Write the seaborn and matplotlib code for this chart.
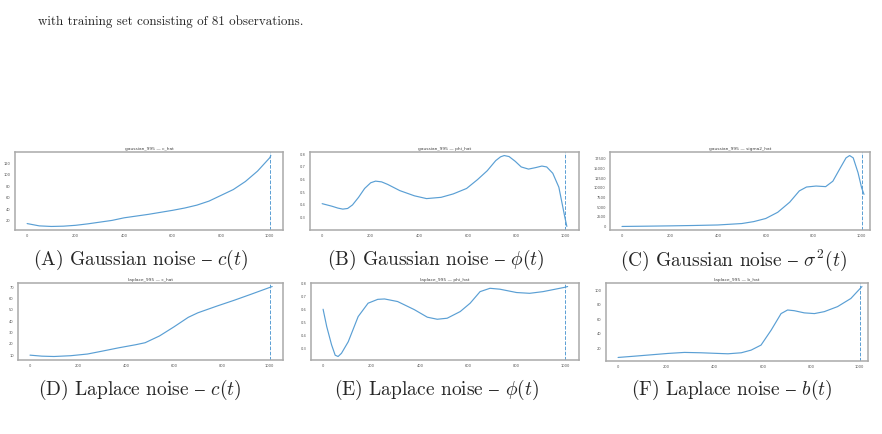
import numpy as np
import pandas as pd
import matplotlib
matplotlib.use("Agg")
import matplotlib.pyplot as plt
import seaborn as sns

# 数据：估计值
t_gc = [0, 50, 100, 150, 200, 250, 300, 350, 400, 450, 500, 550, 600, 650, 700, 750, 800, 850, 900, 950, 1000, 1005]
gauss_c = [15, 11, 10, 10.5, 12, 14.5, 17.5, 20.5, 25, 28, 31, 34.5, 38, 42, 47, 54, 64, 74, 88, 106, 129, 133]

t_gphi = [0, 40, 65, 85, 105, 125, 150, 175, 200, 220, 245, 270, 320, 380, 430, 490, 540, 595, 640, 680, 715, 735, 750, 770, 795, 820, 850, 880, 905, 925, 950, 975, 1000, 1008]
gauss_phi = [0.41, 0.39, 0.375, 0.367, 0.372, 0.40, 0.46, 0.53, 0.575, 0.588, 0.582, 0.562, 0.513, 0.472, 0.45, 0.46, 0.487, 0.53, 0.60, 0.67, 0.75, 0.78, 0.79, 0.782, 0.745, 0.70, 0.683, 0.695, 0.707, 0.70, 0.65, 0.54, 0.30, 0.23]

t_gs = [0, 100, 200, 300, 400, 500, 550, 600, 650, 700, 740, 770, 810, 850, 880, 910, 935, 950, 965, 985, 1000, 1010]
gauss_sigma2 = [50, 120, 200, 300, 430, 800, 1300, 2100, 3700, 6300, 9200, 10200, 10450, 10300, 11700, 15000, 17700, 18300, 17700, 13900, 10000, 8300]

t_lc = [0, 50, 100, 170, 240, 300, 370, 440, 480, 540, 600, 660, 700, 780, 850, 920, 1000, 1010]
lap_c = [10, 9.1, 8.8, 9.5, 11, 13.5, 16.5, 19.2, 21, 27, 35, 43.5, 47.5, 53.5, 58.5, 63.8, 70, 70.8]

t_lphi = [0, 15, 35, 50, 62, 76, 104, 145, 186, 226, 254, 308, 377, 431, 472, 513, 567, 608, 649, 690, 731, 800, 854, 909, 1000, 1011]
lap_phi = [0.603, 0.468, 0.326, 0.245, 0.235, 0.26, 0.35, 0.546, 0.65, 0.68, 0.683, 0.663, 0.60, 0.541, 0.525, 0.533, 0.585, 0.65, 0.74, 0.766, 0.759, 0.733, 0.727, 0.74, 0.774, 0.78]

t_lb = [0, 69, 138, 207, 275, 344, 413, 455, 510, 551, 592, 634, 675, 702, 730, 771, 813, 854, 909, 964, 1000, 1010]
lap_b = [7, 8.8, 10.7, 12.6, 14, 13.5, 12.6, 12.1, 13.5, 17.2, 24.2, 45, 68, 73, 72, 69, 68, 70.7, 77.7, 89, 102, 105.6]

titles = ["gaussian_995 — c_hat", "gaussian_995 — phi_hat", "gaussian_995 — sigma2_hat",
          "laplace_995 — c_hat", "laplace_995 — phi_hat", "laplace_995 — b_hat"]
captions = ["(A) Gaussian noise $–$ $c(t)$", "(B) Gaussian noise $–$ $\\phi(t)$", "(C) Gaussian noise $–$ $\\sigma^2(t)$",
            "(D) Laplace noise $–$ $c(t)$", "(E) Laplace noise $–$ $\\phi(t)$", "(F) Laplace noise $–$ $b(t)$"]
body_text = "with training set consisting of 81 observations."

series = [(t_gc, gauss_c), (t_gphi, gauss_phi), (t_gs, gauss_sigma2),
          (t_lc, lap_c), (t_lphi, lap_phi), (t_lb, lap_b)]

sns.set_style("white")
plt.rcParams['font.family'] = ['DejaVu Sans']
plt.rcParams['mathtext.fontset'] = 'cm'

W, H = 882, 434
fig = plt.figure(figsize=(W / 100, H / 100), dpi=100)

# 各子图的像素位置 (左, 右, 上, 下)
boxes = [(15, 283, 152, 230), (310, 579, 152, 230), (610, 870, 152, 230),
         (18, 283, 283, 360), (311, 579, 283, 360), (606, 868, 283, 361)]
xlims = [(-50, 1055), (-50, 1058), (-50, 1035), (-50, 1055), (-50, 1058), (-50, 1035)]
cap_pos = [(141, 260), (436, 260), (733, 260), (140, 390), (437, 390), (732, 390)]

line_col = '#5a9fd4'
for i, (t, v) in enumerate(series):
    l, r, tp, b = boxes[i]
    ax = fig.add_axes([l / W, 1 - b / H, (r - l) / W, (b - tp) / H])
    df = pd.DataFrame({'t': t, 'v': v})
    sns.lineplot(data=df, x='t', y='v', ax=ax, color=line_col, linewidth=0.85)
    ax.axvline(1000, color=line_col, linestyle='--', linewidth=0.7)
    ax.set_xlim(*xlims[i])
    ax.set_xticks([0, 200, 400, 600, 800, 1000])
    ax.set_xlabel('')
    ax.set_ylabel('')
    ax.set_title(titles[i], fontsize=3.2, pad=1.5, color='#444444')
    ax.tick_params(labelsize=2.6, length=1.5, width=0.4, pad=1.5, colors='#555555')
    for s in ax.spines.values():
        s.set_color('#aaaaaa')
        s.set_linewidth(1.1)
    cx, cy = cap_pos[i]
    fig.text(cx / W, 1 - cy / H, captions[i], ha='center', va='center',
             fontsize=14, family=['cmr10', 'DejaVu Serif'])

fig.text(38 / W, 1 - 22 / H, body_text, ha='left', va='center',
         fontsize=9.4, family=['cmr10', 'DejaVu Serif'])

fig.savefig('out.png', dpi=100)
